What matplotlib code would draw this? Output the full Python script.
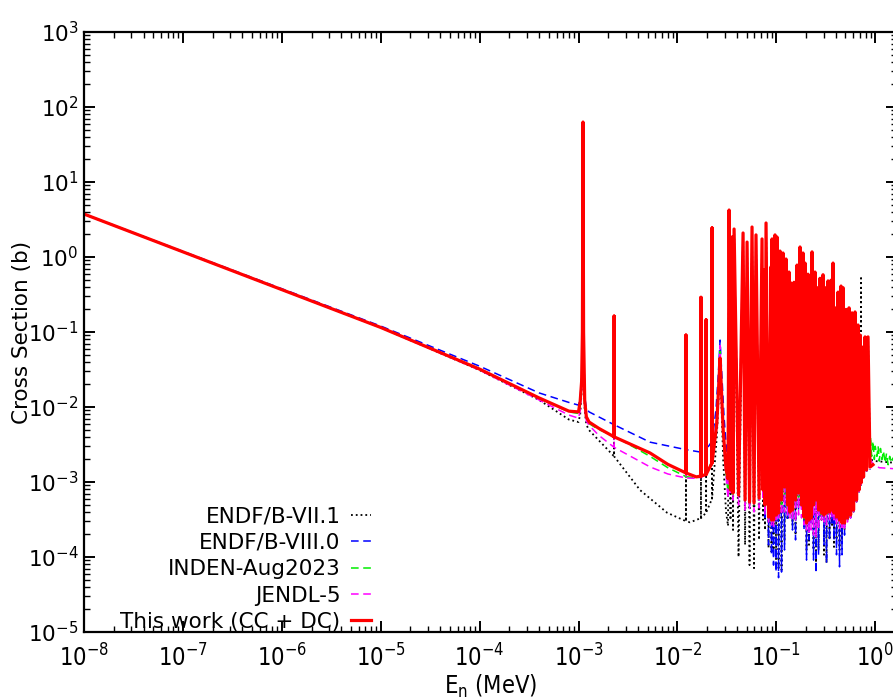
import numpy as np
import matplotlib
matplotlib.use("Agg")
from matplotlib import pyplot as plt
from matplotlib.ticker import LogLocator, NullFormatter

plt.rcParams['font.family'] = ['DejaVu Sans']
plt.rcParams['mathtext.default'] = 'regular'
plt.rcParams['axes.unicode_minus'] = False
plt.rcParams['path.simplify'] = False

# ---- data (E in MeV, cross section in b) ----
# isolated part below the resonance forest
red_pre_E = [1e-8, 1e-5, 1e-4, 4e-4, 8e-4, 1.0e-3, 1.04e-3, 1.075e-3, 1.095e-3, 1.11e-3, 1.125e-3,
             1.155e-3, 1.2e-3, 1.28e-3, 1.6e-3, 2.29e-3, 2.29e-3, 2.29e-3, 5.28e-3, 8.0e-3,
             0.0122, 0.0122, 0.0122, 0.0155, 0.0173, 0.0173, 0.0173, 0.0195, 0.0195, 0.0195,
             0.0224, 0.0224, 0.0224, 0.0250, 0.0262, 0.0270, 0.0278, 0.0290, 0.0310, 0.0325]
red_pre_xs = [3.74, 0.115, 0.032, 0.0132, 0.0088, 0.0086, 0.012, 0.022, 0.1, 63, 0.1,
              0.012, 0.0074, 0.0063, 0.0052, 0.0040, 0.163, 0.0040, 0.00244, 0.00172,
              0.00132, 0.091, 0.00132, 0.00117, 0.0012, 0.29, 0.0012, 0.00126, 0.145, 0.00126,
              0.0018, 2.44, 0.0018, 0.006, 0.02, 0.045, 0.018, 0.005, 0.0015, 0.0011]

green_pre_E = red_pre_E
green_pre_xs = [3.74, 0.115, 0.032, 0.0130, 0.0086, 0.0082, 0.011, 0.02, 0.09, 60, 0.09,
                0.011, 0.0071, 0.0060, 0.0050, 0.0041, 0.15, 0.0041, 0.0022, 0.00155,
                0.00118, 0.085, 0.00118, 0.00113, 0.00118, 0.27, 0.00118, 0.0013, 0.13, 0.0013,
                0.0019, 2.3, 0.0019, 0.007, 0.022, 0.055, 0.02, 0.005, 0.0013, 7.2e-4]

magenta_pre_E = red_pre_E
magenta_pre_xs = [3.74, 0.115, 0.031, 0.0124, 0.0078, 0.0071, 0.009, 0.018, 0.08, 60, 0.08,
                  0.01, 0.0065, 0.0057, 0.0042, 0.0029, 0.15, 0.0029, 0.00159, 0.00128,
                  0.00113, 0.085, 0.00113, 0.00112, 0.00115, 0.27, 0.00115, 0.00125, 0.13, 0.00125,
                  0.0018, 2.3, 0.0018, 0.007, 0.025, 0.066, 0.02, 0.005, 0.0012, 6.0e-4]

blue_pre_E = [1e-8, 1e-5, 1e-4, 4e-4, 8e-4, 1.0e-3, 1.04e-3, 1.075e-3, 1.095e-3, 1.11e-3, 1.125e-3,
              1.155e-3, 1.2e-3, 1.28e-3, 2.29e-3, 2.29e-3, 2.29e-3, 5.28e-3,
              0.0122, 0.0122, 0.0122, 0.0173, 0.0173, 0.0173, 0.0195, 0.0195, 0.0195,
              0.0224, 0.0224, 0.0224, 0.0245, 0.0258, 0.0270, 0.0282, 0.0296, 0.0315, 0.0330]
blue_pre_xs = [3.74, 0.12, 0.035, 0.0154, 0.0115, 0.0106, 0.013, 0.025, 0.1, 60, 0.1,
               0.014, 0.0095, 0.0086, 0.0058, 0.15, 0.0058, 0.0034,
               0.0027, 0.085, 0.0027, 0.0025, 0.27, 0.0025, 0.0027, 0.13, 0.0027,
               0.0035, 2.3, 0.0035, 0.009, 0.025, 0.078, 0.025, 0.0074, 0.0025, 0.00145]

black_pre_E = [1e-8, 1e-5, 1e-4, 4e-4, 8e-4, 1.0e-3, 1.04e-3, 1.075e-3, 1.095e-3, 1.11e-3, 1.125e-3,
               1.155e-3, 1.2e-3, 1.28e-3, 1.6e-3, 2.29e-3, 2.29e-3, 2.29e-3, 4.19e-3, 7.85e-3,
               0.0122, 0.0122, 0.0122, 0.0134, 0.0173, 0.0173, 0.0173, 0.0195, 0.0195, 0.0195,
               0.0224, 0.0224, 0.0224, 0.0250, 0.0262, 0.0270, 0.0278, 0.0290, 0.0310, 0.0325]
black_pre_xs = [3.74, 0.115, 0.031, 0.0124, 0.0068, 0.0063, 0.008, 0.016, 0.08, 60, 0.08,
                0.009, 0.0058, 0.0049, 0.0036, 0.0022, 0.15, 0.0022, 7.8e-4, 3.9e-4,
                3.0e-4, 0.085, 3.0e-4, 2.9e-4, 3.3e-4, 0.27, 3.3e-4, 3.9e-4, 0.13, 3.9e-4,
                6.0e-4, 2.3, 6.0e-4, 0.004, 0.015, 0.045, 0.012, 0.002, 4.0e-4, 2.6e-4]

# resonance forest: peak tops and the valleys between them
forest_peak_E = [0.0333, 0.0357, 0.0374, 0.0461, 0.0506, 0.0568, 0.0623, 0.0717, 0.0751, 0.0787,
                 0.0884, 0.0905, 0.0970, 0.1016, 0.1090, 0.1169, 0.1254, 0.1344, 0.1408, 0.1510,
                 0.1620, 0.1736, 0.1862, 0.1951, 0.2091, 0.2192, 0.2296, 0.2462, 0.2579, 0.2766,
                 0.2966, 0.3107, 0.3333, 0.3573, 0.3744, 0.3922, 0.4206, 0.4510, 0.4725, 0.5067,
                 0.5435, 0.5828, 0.6250, 0.6702, 0.7021, 0.7355, 0.7888, 0.8457]
forest_peak_xs = [4.23, 1.85, 2.36, 2.09, 1.58, 2.51, 1.97, 1.74, 0.67, 2.84,
                  0.74, 1.74, 1.97, 1.85, 1.20, 1.13, 0.94, 0.63, 0.45, 0.46,
                  0.78, 1.36, 1.13, 0.83, 0.59, 0.48, 1.17, 0.63, 0.39, 0.52,
                  0.58, 0.39, 0.48, 0.49, 0.83, 0.21, 0.34, 0.41, 0.39, 0.20,
                  0.21, 0.18, 0.185, 0.124, 0.091, 0.063, 0.086, 0.086]
forest_valley_E = [0.0344, 0.0365, 0.0415, 0.0483, 0.0536, 0.0595, 0.0669, 0.0734, 0.0769, 0.0834,
                   0.0894, 0.0937, 0.0993, 0.1053, 0.1129, 0.1210, 0.1298, 0.1376, 0.1458, 0.1564,
                   0.1677, 0.1798, 0.1906, 0.2020, 0.2141, 0.2243, 0.2377, 0.2520, 0.2671, 0.2864,
                   0.3036, 0.3218, 0.3451, 0.3658, 0.3832, 0.4061, 0.4355, 0.4616, 0.4893, 0.5248,
                   0.5630, 0.6035, 0.6471, 0.6860, 0.7186, 0.7617, 0.8166]
red_valley_xs = [7.82e-4, 7.13e-4, 6.71e-4, 5.75e-4, 5.41e-4, 5.25e-4, 6.12e-4, 7.82e-4, 4.94e-4, 3.41e-4,
                 3.12e-4, 3.12e-4, 3.63e-4, 3.86e-4, 5.75e-4, 8.58e-4, 4.94e-4, 3.98e-4, 4.23e-4, 5.75e-4,
                 7.13e-4, 4.94e-4, 3.41e-4, 2.84e-4, 3.12e-4, 3.31e-4, 4.94e-4, 5.75e-4, 4.23e-4, 3.86e-4,
                 3.63e-4, 3.86e-4, 3.98e-4, 4.23e-4, 3.86e-4, 3.41e-4, 3.12e-4, 2.84e-4, 2.84e-4, 3.31e-4,
                 3.63e-4, 4.23e-4, 5.75e-4, 7.82e-4, 9.70e-4, 1.17e-3, 1.45e-3]
green_valley_xs = [7.36e-4, 6.71e-4, 6.31e-4, 5.41e-4, 4.94e-4, 4.94e-4, 5.75e-4, 7.13e-4, 4.50e-4, 3.21e-4,
                   2.93e-4, 2.93e-4, 3.41e-4, 3.63e-4, 4.94e-4, 6.71e-4, 4.50e-4, 3.74e-4, 3.98e-4, 4.94e-4,
                   5.75e-4, 4.50e-4, 3.21e-4, 2.67e-4, 2.93e-4, 3.12e-4, 4.23e-4, 4.94e-4, 3.86e-4, 3.63e-4,
                   3.41e-4, 3.63e-4, 3.74e-4, 3.98e-4, 3.63e-4, 3.21e-4, 2.93e-4, 2.67e-4, 2.67e-4, 3.12e-4,
                   3.41e-4, 3.98e-4, 5.41e-4, 7.36e-4, 9.12e-4, 1.13e-3, 1.40e-3]
magenta_valley_xs = [6.71e-4, 5.75e-4, 4.94e-4, 4.23e-4, 4.23e-4, 3.98e-4, 4.50e-4, 5.75e-4, 3.63e-4, 2.93e-4,
                     2.67e-4, 2.51e-4, 3.12e-4, 3.31e-4, 3.63e-4, 3.98e-4, 3.63e-4, 3.31e-4, 3.12e-4, 2.93e-4,
                     3.63e-4, 3.31e-4, 2.67e-4, 2.29e-4, 2.15e-4, 2.29e-4, 1.96e-4, 1.85e-4, 2.29e-4, 3.12e-4,
                     2.93e-4, 2.67e-4, 3.12e-4, 3.31e-4, 3.12e-4, 2.67e-4, 2.43e-4, 2.29e-4, 2.43e-4, 2.93e-4,
                     3.31e-4, 3.98e-4, 5.41e-4, 7.36e-4, 9.12e-4, 1.13e-3, 1.40e-3]
blue_valley_xs = [1.45e-3, 1.45e-3, 1.36e-3, 1.24e-3, 1.13e-3, 1.13e-3, 1.06e-3, 7.82e-4, 3.12e-4, 1.45e-4,
                  1.07e-4, 7.8e-5, 6.3e-5, 5.3e-5, 6.3e-5, 1.24e-4, 3.12e-4, 5.25e-4, 2.29e-4, 1.69e-4,
                  4.23e-4, 7.13e-4, 2.29e-4, 9.1e-5, 1.69e-4, 2.84e-4, 9.1e-5, 6.1e-5, 1.07e-4, 3.41e-4,
                  1.45e-4, 8.3e-5, 1.69e-4, 2.84e-4, 1.69e-4, 1.07e-4, 7.4e-5, 1.07e-4, 1.96e-4, 3.12e-4,
                  3.31e-4, 3.98e-4, 5.41e-4, 7.36e-4, 9.12e-4, 1.13e-3, 1.40e-3]
black_valley_xs = [3.12e-4, 2.29e-4, 1.00e-4, 1.45e-4, 7.8e-5, 7.1e-5, 1.69e-4, 3.12e-4, 2.29e-4, 1.32e-4,
                   1.17e-4, 1.24e-4, 9.1e-5, 7.1e-5, 6.7e-5, 1.69e-4, 3.12e-4, 4.94e-4, 2.67e-4, 1.96e-4,
                   4.94e-4, 6.71e-4, 2.67e-4, 1.24e-4, 1.45e-4, 3.12e-4, 1.24e-4, 7.8e-5, 1.32e-4, 3.12e-4,
                   1.07e-4, 8.3e-5, 1.69e-4, 2.67e-4, 1.36e-4, 1.69e-4, 1.24e-4, 1.45e-4, 2.29e-4, 3.12e-4,
                   3.41e-4, 3.98e-4, 5.41e-4, 7.36e-4, 9.12e-4, 1.13e-3, 1.40e-3]
# a black (ENDF/B-VII.1) resonance that pokes out above the red forest
black_extra_E = [0.7186]
black_extra_xs = [0.52]

# above the forest
red_post_E = [0.8859, 0.95]
red_post_xs = [1.58e-3, 1.7e-3]
green_post_E = [0.8859, 0.895, 0.92, 0.95, 0.98, 1.0, 1.04, 1.07, 1.1, 1.13, 1.17, 1.21, 1.26, 1.3,
                1.35, 1.4, 1.45, 1.52, 1.6]
green_post_xs = [1.6e-3, 4.0e-3, 2.2e-3, 3.5e-3, 2.0e-3, 3.0e-3, 2.2e-3, 3.0e-3, 1.9e-3, 2.8e-3,
                 2.0e-3, 2.6e-3, 1.8e-3, 2.4e-3, 1.7e-3, 2.2e-3, 1.8e-3, 2.1e-3, 1.9e-3]
magenta_post_E = [0.8859, 0.95, 1.1, 1.6]
magenta_post_xs = [2.1e-3, 1.7e-3, 1.55e-3, 1.5e-3]
blue_post_E = [0.8859]
blue_post_xs = [1.45e-3]
black_post_E = [0.8859, 1.0, 1.6]
black_post_xs = [2.0e-3, 1.9e-3, 1.8e-3]

labels = ['ENDF/B-VII.1', 'ENDF/B-VIII.0', 'INDEN-Aug2023', 'JENDL-5', 'This work (CC + DC)']


def build(pre_E, pre_xs, valley_xs, post_E, post_xs, extra_E=(), extra_xs=()):
    E = list(pre_E)
    xs = list(pre_xs)
    for i in range(len(forest_peak_E)):
        E.append(forest_peak_E[i])
        xs.append(forest_peak_xs[i])
        if i < len(forest_valley_E):
            E.append(forest_valley_E[i])
            xs.append(valley_xs[i])
            if forest_valley_E[i] in extra_E:
                # narrow extra resonance on top of this valley
                E += [forest_valley_E[i], forest_valley_E[i]]
                xs += [extra_xs[list(extra_E).index(forest_valley_E[i])], valley_xs[i]]
    return E + list(post_E), xs + list(post_xs)


series = [
    (build(black_pre_E, black_pre_xs, black_valley_xs, black_post_E, black_post_xs,
           black_extra_E, black_extra_xs),
     dict(color='black', ls=':', lw=1.3)),
    (build(blue_pre_E, blue_pre_xs, blue_valley_xs, blue_post_E, blue_post_xs),
     dict(color='blue', ls=(0, (5, 3)), lw=1.1)),
    (build(green_pre_E, green_pre_xs, green_valley_xs, green_post_E, green_post_xs),
     dict(color='#00ee00', ls=(0, (5, 3)), lw=1.1)),
    (build(magenta_pre_E, magenta_pre_xs, magenta_valley_xs, magenta_post_E, magenta_post_xs),
     dict(color='magenta', ls=(0, (5, 3)), lw=1.1)),
    (build(red_pre_E, red_pre_xs, red_valley_xs, red_post_E, red_post_xs),
     dict(color='red', ls='-', lw=2.3)),
]

fig = plt.figure(figsize=(8.93, 7.0), dpi=100)
ax = fig.add_axes([84 / 893, 68 / 700, (897 - 84) / 893, 600 / 700])

for ((E, xs), style), lab in zip(series, labels):
    ax.plot(E, xs, label=lab, **style)

ax.set_xscale('log')
ax.set_yscale('log')
ax.set_xlim(1e-8, 1.66)
ax.set_ylim(1e-5, 1e3)

for axis in (ax.xaxis, ax.yaxis):
    axis.set_major_locator(LogLocator(base=10, numticks=30))
    axis.set_minor_locator(LogLocator(base=10, subs=np.arange(2, 10), numticks=200))
    axis.set_minor_formatter(NullFormatter())

ax.tick_params(which='both', direction='in', top=True, right=True)
ax.tick_params(which='major', length=8, width=1.4)
ax.tick_params(which='minor', length=4, width=1.0)
ax.tick_params(axis='y', which='major', labelsize=15.5, pad=4)
ax.tick_params(axis='x', which='major', labelsize=17, pad=9)
for s in ax.spines.values():
    s.set_linewidth(1.6)

ax.set_xlabel(r'E$_{n}$ (MeV)', fontsize=17, fontstretch='condensed', labelpad=1)
ax.set_ylabel('Cross Section (b)', fontsize=15.5)
ax.yaxis.set_label_coords(-0.064, 0.5)

ax.legend(loc='lower right', bbox_to_anchor=(0.353, 0.0), frameon=False, markerfirst=False,
          fontsize=15.5, handlelength=0.95, handletextpad=0.47, labelspacing=0.3,
          borderaxespad=0.0, borderpad=0.0)

fig.canvas.draw()
for t in ax.get_xticklabels():
    t.set_fontstretch('condensed')

fig.savefig('out.png', dpi=100)
